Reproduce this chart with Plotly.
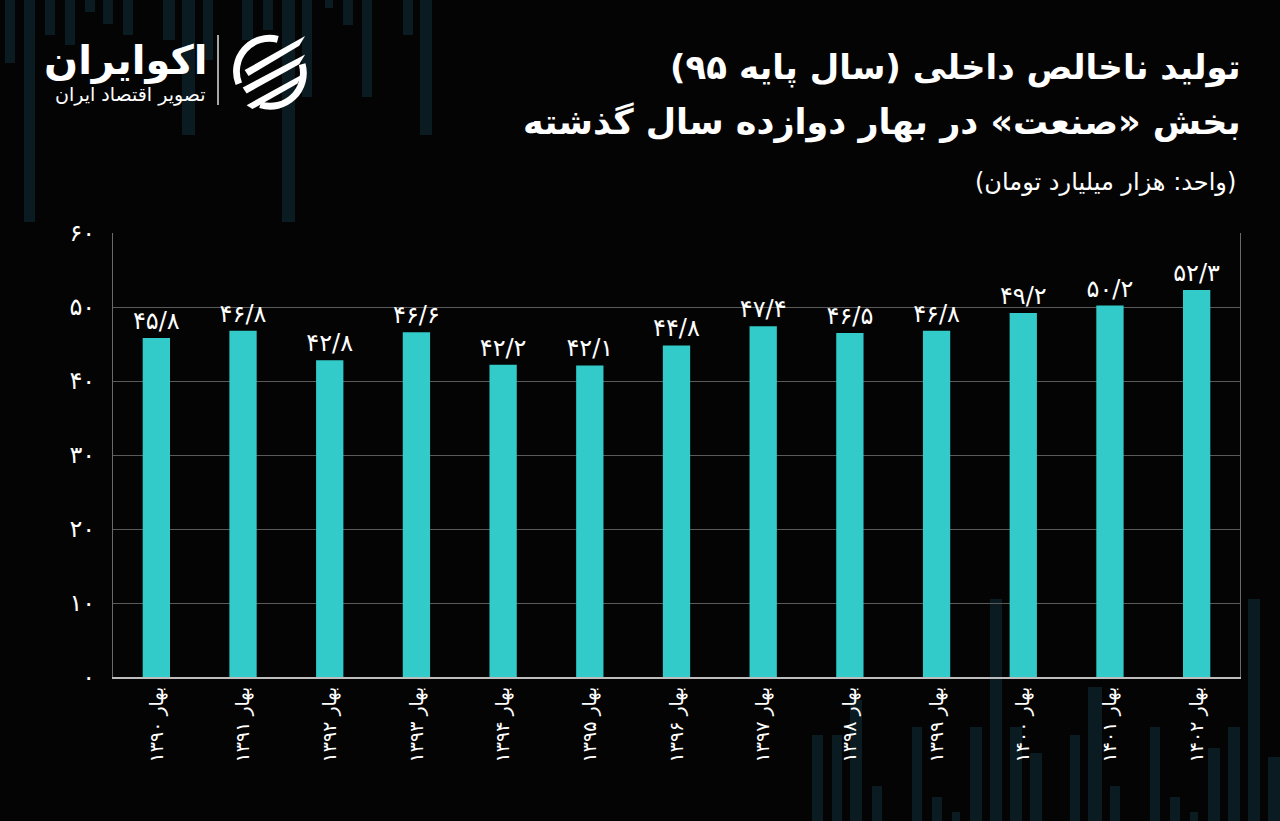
import base64
import plotly.graph_objects as go

# ---------------- data ----------------
years = [1390, 1391, 1392, 1393, 1394, 1395, 1396, 1397, 1398, 1399, 1400, 1401, 1402]
values = [45.8, 46.8, 42.8, 46.6, 42.2, 42.1, 44.8, 47.4, 46.5, 46.8, 49.2, 50.2, 52.3]
y_ticks = [0, 10, 20, 30, 40, 50, 60]

title_line1 = "تولید ناخالص داخلی (سال پایه ۹۵)"
title_line2 = "بخش «صنعت» در بهار دوازده سال گذشته"
unit_text = "(واحد: هزار میلیارد تومان)"
logo_name = "اکوایران"
logo_sub = "تصویر اقتصاد ایران"

FA = str.maketrans("0123456789.", "۰۱۲۳۴۵۶۷۸۹/")
RLM = "\u200f"


def fa(s):
    return str(s).translate(FA)


categories = [RLM + "بهار " + fa(y) + RLM for y in years]
bar_text = [fa(f"{v:.1f}") for v in values]

# ---------------- layout geometry (pixels) ----------------
W, H = 1280, 821
L, R, T, B = 113, 40, 233, 144
PW, PH = W - L - R, H - T - B


def px(x):
    return (x - L) / PW


def py(y):
    return (H - B - y) / PH


FONT = "DejaVu Sans"
BAR = "#33caca"

fig = go.Figure()
fig.add_trace(go.Bar(
    x=categories,
    y=values,
    text=bar_text,
    textposition="outside",
    constraintext="none",
    textfont=dict(family=FONT, size=24, color="white"),
    marker=dict(color=BAR, line=dict(width=0)),
    cliponaxis=False,
    hoverinfo="skip",
))

# decorative faint background stripes (x0, x1, y_top, y_bottom) in pixels
stripes = [
    (5, 15, 0, 63), (24, 35, 0, 222), (45, 55, 0, 35), (65, 75, 0, 45),
    (85, 95, 0, 12), (103, 113, 0, 24), (123, 133, 0, 35), (163, 175, 0, 40),
    (182, 195, 0, 135), (203, 213, 0, 60), (242, 253, 0, 40), (263, 273, 0, 30),
    (282, 295, 0, 222), (302, 312, 0, 97), (325, 333, 0, 8), (343, 353, 0, 25),
    (362, 372, 0, 97), (403, 413, 0, 35), (420, 432, 0, 135),
    (812, 823, 735, 821), (832, 842, 735, 821), (850, 862, 700, 821),
    (872, 882, 786, 821), (912, 922, 727, 821), (932, 942, 797, 821),
    (952, 960, 812, 821), (970, 982, 727, 821), (990, 1002, 599, 821),
    (1010, 1022, 727, 821), (1030, 1042, 753, 821), (1070, 1080, 735, 821),
    (1088, 1102, 687, 821), (1110, 1120, 786, 821), (1150, 1160, 727, 821),
    (1170, 1180, 797, 821), (1190, 1198, 812, 821), (1208, 1220, 748, 821),
    (1228, 1240, 727, 821), (1248, 1260, 599, 821), (1268, 1280, 757, 821),
]
shapes = []
for x0, x1, y0, y1 in stripes:
    shapes.append(dict(type="rect", xref="paper", yref="paper",
                       x0=px(x0), x1=px(x1), y0=py(y1), y1=py(y0),
                       fillcolor="#0a1b21", line=dict(width=0), layer="below"))

# logo separator line
shapes.append(dict(type="line", xref="paper", yref="paper",
                   x0=px(218), x1=px(218), y0=py(105), y1=py(35),
                   line=dict(color="#dddddd", width=1.5)))

# logo icon as inline svg
icon_svg = """<svg xmlns='http://www.w3.org/2000/svg' viewBox='0 0 80 80' width='80' height='80'>
<g fill='none' stroke='white' stroke-width='7'>
<path d='M 48 6.5 A 34 34 0 0 0 8 52'/>
<path d='M 30 73.5 A 34 34 0 0 0 73 32'/>
</g>
<g fill='white'>
<path d='M 14 38 L 76 3 L 70 13 L 18 44 Z'/>
<path d='M 12 56 L 76 22 L 70 32 L 16 62 Z'/>
<path d='M 16 74 L 74 42 L 68 52 L 22 78 Z'/>
</g>
</svg>"""
icon_src = "data:image/svg+xml;base64," + base64.b64encode(icon_svg.encode()).decode()

annotations = [
    dict(text="<b>" + RLM + title_line1 + RLM + "</b>", x=px(1243), y=py(68),
         xref="paper", yref="paper", xanchor="right", yanchor="middle", showarrow=False,
         font=dict(family=FONT, size=34, color="white")),
    dict(text="<b>" + RLM + title_line2 + RLM + "</b>", x=px(1243), y=py(122),
         xref="paper", yref="paper", xanchor="right", yanchor="middle", showarrow=False,
         font=dict(family=FONT, size=35, color="white")),
    dict(text=RLM + unit_text + RLM, x=px(1238), y=py(182),
         xref="paper", yref="paper", xanchor="right", yanchor="middle", showarrow=False,
         font=dict(family=FONT, size=24, color="white")),
    dict(text="<b>" + logo_name + "</b>", x=px(210), y=py(60),
         xref="paper", yref="paper", xanchor="right", yanchor="middle", showarrow=False,
         font=dict(family=FONT, size=40, color="white")),
    dict(text=logo_sub, x=px(208), y=py(94),
         xref="paper", yref="paper", xanchor="right", yanchor="middle", showarrow=False,
         font=dict(family=FONT, size=19, color="white")),
]

fig.update_layout(
    width=W, height=H,
    margin=dict(l=L, r=R, t=T, b=B, pad=0),
    paper_bgcolor="#040404",
    plot_bgcolor="rgba(0,0,0,0)",
    showlegend=False,
    bargap=0.685,
    shapes=shapes,
    annotations=annotations,
    images=[dict(source=icon_src, xref="paper", yref="paper",
                 x=px(231), y=py(33), sizex=78 / PW, sizey=78 / PH,
                 xanchor="left", yanchor="top", sizing="stretch", layer="above")],
    font=dict(family=FONT, color="white"),
)
fig.update_xaxes(
    tickangle=-90,
    tickfont=dict(family=FONT, size=19, color="white"),
    showline=True, linecolor="#bdbdbd", linewidth=2,
    showgrid=False, ticks="", fixedrange=True,
)
fig.update_yaxes(
    range=[0, 60],
    tickvals=y_ticks,
    ticktext=[fa(t) for t in y_ticks],
    tickfont=dict(family=FONT, size=24, color="white"),
    showline=True, mirror=True, linecolor="#6a6a6a", linewidth=1,
    showgrid=True, gridcolor="#5a5a5a", gridwidth=1,
    zeroline=False, ticks="", ticklabelstandoff=12, fixedrange=True,
)

fig.write_html(
    "out.html",
    config={"displayModeBar": False},
    post_script="document.body.style.margin='0';document.body.style.background='#040404';",
)
